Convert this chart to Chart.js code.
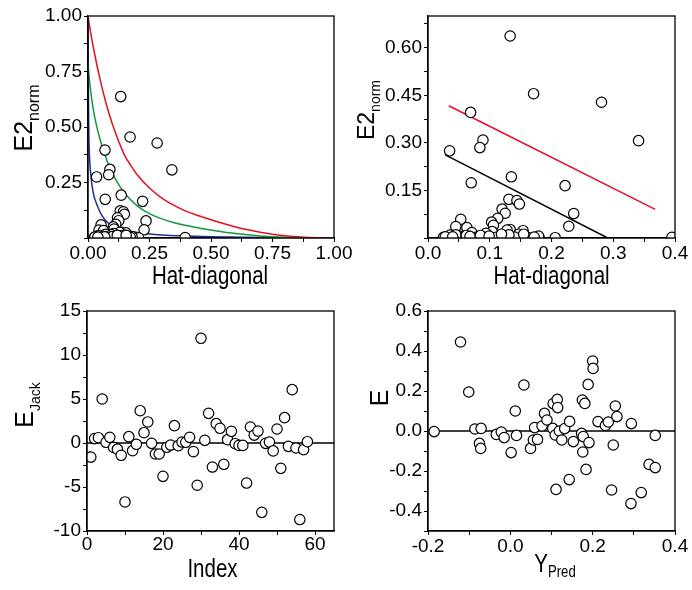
<!DOCTYPE html>
<html><head><meta charset="utf-8">
<script src="https://cdn.jsdelivr.net/npm/chart.js@4.4.1/dist/chart.umd.min.js"></script>
<style>
html,body{margin:0;padding:0;background:#fff;}
#wrap{position:relative;width:692px;height:590px;overflow:hidden;background:#fff;}
canvas{position:absolute;left:0;top:0;}
</style></head><body>
<div id="wrap">
<canvas id="c1" width="692" height="590"></canvas>
<canvas id="c2" width="692" height="590"></canvas>
<canvas id="c3" width="692" height="590"></canvas>
<canvas id="c4" width="692" height="590"></canvas>
</div>
<script>
// ---------- DATA ----------
const hatDiag = [0.133,0.171,0.281,0.341,0.069,0.035,0.089,0.084,0.070,0.135,0.222,0.236,0.228,0.131,0.144,0.148,0.120,0.125,0.113,0.103,0.106,0.053,0.045,0.063,0.133,0.154,0.128,0.104,0.094,0.147,0.071,0.036,0.051,0.025,0.077,0.116,0.164,0.180,0.206,0.395,0.179,0.058,0.090,0.110,0.140,0.045,0.062,0.123,0.085,0.099,0.131,0.157,0.028,0.068,0.119,0.172,0.155,0.040];
const e2norm  = [0.637,0.455,0.428,0.307,0.396,0.275,0.309,0.285,0.174,0.193,0.165,0.077,0.037,0.122,0.118,0.107,0.091,0.078,0.062,0.050,0.040,0.059,0.036,0.033,0.027,0.023,0.025,0.020,0.015,0.012,0.017,0.009,0.006,0.002,0.002,0.004,0.001,0.001,0.001,0.002,0.006,0.003,0.003,0.002,0.003,0.010,0.008,0.008,0.008,0.006,0.010,0.004,0.004,0.005,0.012,0.003,0.012,0.004];

const redCurveH   = [0,0.005,0.01,0.025,0.05,0.075,0.1,0.125,0.15,0.175,0.2,0.25,0.3,0.35,0.4,0.45,0.5,0.55,0.6,0.65,0.7,0.75,0.8,0.85,0.9,0.95,1.0];
const redCurveE   = [1.0,0.965,0.93,0.84,0.71,0.60,0.51,0.435,0.37,0.325,0.285,0.225,0.18,0.147,0.12,0.10,0.082,0.065,0.05,0.037,0.026,0.017,0.0105,0.0058,0.0025,0.0006,0];
const greenCurveH = [0,0.005,0.01,0.02,0.03,0.05,0.075,0.1,0.125,0.15,0.2,0.25,0.3,0.35,0.4,0.45,0.5,0.6,0.7,0.8,0.9,1.0];
const greenCurveE = [0.79,0.72,0.67,0.59,0.53,0.44,0.355,0.29,0.24,0.2,0.145,0.11,0.086,0.069,0.056,0.045,0.036,0.02,0.009,0.003,0.0008,0];
const blueCurveH  = [0,0.001,0.003,0.006,0.01,0.02,0.04,0.06,0.08,0.1,0.15,0.2,0.3,0.4,0.5,0.7,0.85,1.0];
const blueCurveE  = [1.0,0.75,0.5,0.37,0.30,0.21,0.14,0.095,0.07,0.055,0.035,0.025,0.014,0.009,0.006,0.002,0.0005,0];

const redLineH   = [0.0336,0.368];
const redLineE   = [0.417,0.0905];
const blackLineH = [0.028,0.291];
const blackLineE = [0.262,0.0];

const jackIndex = [1,2,3,4,5,6,7,8,9,10,11,12,13,14,15,16,17,18,19,20,21,22,23,24,25,26,27,28,29,30,31,32,33,34,35,36,37,38,39,40,41,42,43,44,45,46,47,48,49,50,51,52,53,54,55,56,57,58];
const eJack = [-1.6,0.5,0.6,5.0,0.08,0.64,-0.5,-0.7,-1.4,-6.7,0.72,-0.87,-0.15,3.67,1.17,2.39,-0.04,-1.25,-1.25,-3.79,-0.49,-0.23,1.97,-0.3,0.11,0.08,0.64,-0.98,-4.8,11.9,0.3,3.37,-2.73,2.2,1.67,-2.42,0.38,1.33,-0.08,-0.27,-0.27,-4.55,1.82,0.9,1.36,-7.88,-0.04,0.11,-0.9,1.59,-2.88,2.88,-0.38,6.06,-0.57,-8.7,-0.76,0.15];
const jackZeroX = [0,65];
const jackZeroY = [0,0];

const yPred = [-0.185,-0.121,-0.101,-0.086,-0.071,-0.075,-0.072,-0.034,-0.022,-0.015,0.002,0.012,0.015,0.033,0.049,0.056,0.059,0.066,0.077,0.083,0.089,0.103,0.104,0.114,0.115,0.109,0.111,0.119,0.125,0.132,0.144,0.143,0.153,0.175,0.181,0.173,0.177,0.176,0.184,0.189,0.191,0.200,0.201,0.213,0.231,0.238,0.250,0.246,0.255,0.259,0.294,0.293,0.318,0.337,0.352,0.352];
const resE  = [-0.003,0.445,0.195,0.01,0.013,-0.062,-0.087,-0.017,-0.005,-0.033,-0.108,0.10,-0.022,0.23,-0.087,-0.045,0.017,-0.042,0.025,0.088,0.055,0.013,0.137,0.158,0.117,-0.02,-0.292,0.0,-0.045,0.012,0.048,-0.243,-0.053,0.155,0.138,-0.012,-0.028,-0.105,-0.192,0.233,-0.058,0.35,0.313,0.047,0.028,0.045,-0.07,-0.295,0.125,0.072,0.037,-0.363,-0.308,-0.167,-0.183,-0.022];
const predZeroX = [-0.2,0.4];
const predZeroY = [0,0];

// ---------- HELPERS ----------
const FONT = "'Liberation Sans', Arial, sans-serif";
const W = 692, H = 590;

function pts(xs, ys){ return xs.map((x,i)=>({x:x, y:ys[i]})); }

function scatterSet(xs, ys, clip){
  return {type:'scatter', data:pts(xs,ys), order:0, clip:clip,
    pointRadius:5.2, pointHoverRadius:5.2, pointBackgroundColor:'#fff',
    pointBorderColor:'#000', pointBorderWidth:1.2, showLine:false};
}
function lineSet(xs, ys, color, width, smooth){
  return {type:'scatter', data:pts(xs,ys), order:1, showLine:true,
    borderColor:color, borderWidth:width, pointRadius:0, pointHoverRadius:0,
    cubicInterpolationMode: smooth ? 'monotone' : 'default', tension: 0, fill:false};
}

function axis(pos, min, max, step, major, dec, hide, padding){
  return {
    type:'linear', position:pos, min:min, max:max,
    afterFit: s => { if (pos==='left') s.width = 60; else s.height = 40; },
    border:{display:true, color:'#000', width:1.3},
    grid:{display:true, drawOnChartArea:false, drawTicks:true, tickLength:4, color:'#000', lineWidth:1},
    ticks:{
      stepSize:step, autoSkip:false, maxRotation:0, minRotation:0, includeBounds:false,
      color:'#000', font:{family:FONT, size:19}, padding:padding,
      callback: v => {
        let r = v / major;
        if (Math.abs(r - Math.round(r)) > 1e-6) return '';
        if (hide.some(h => Math.abs(h - v) < 1e-9)) return '';
        if (Math.abs(v) < 1e-9) v = 0;
        return v.toFixed(dec);
      }
    }
  };
}

function drawTitle(ctx, a, t){
  ctx.save();
  ctx.fillStyle = '#000';
  ctx.textBaseline = 'alphabetic';
  ctx.textAlign = 'left';
  const mainFont = t.size + 'px ' + FONT;
  const subFont = t.subSize + 'px ' + FONT;
  ctx.font = mainFont; const wm = ctx.measureText(t.main).width;
  ctx.font = subFont; const ws = t.sub ? ctx.measureText(t.sub).width : 0;
  const total = wm + ws;
  if (t.axis === 'x'){
    const cx = (a.left + a.right)/2 + t.shift;
    const by = a.bottom + t.offset;
    ctx.translate(cx, by);
    ctx.scale(t.sx, 1);
  } else {
    const bx = a.left - t.offset;
    const cy = (a.top + a.bottom)/2 + t.shift;
    ctx.translate(bx, cy);
    ctx.rotate(-Math.PI/2);
    ctx.scale(1, t.sx);
  }
  ctx.font = mainFont; ctx.fillText(t.main, -total/2, 0);
  if (t.sub){ ctx.font = subFont; ctx.fillText(t.sub, -total/2 + wm, t.dy); }
  ctx.restore();
}

const framePlugin = {
  id:'frameTitles',
  afterDraw(chart, args, opts){
    const ctx = chart.ctx, a = chart.chartArea;
    ctx.save();
    ctx.strokeStyle = '#000'; ctx.lineWidth = 1.3;
    ctx.strokeRect(a.left, a.top, a.right - a.left, a.bottom - a.top);
    ctx.restore();
    (opts.titles || []).forEach(t => drawTitle(ctx, a, t));
  }
};

function makeChart(id, area, datasets, xAxis, yAxis, titles){
  return new Chart(document.getElementById(id), {
    type:'scatter',
    data:{datasets:datasets},
    options:{
      responsive:false, animation:false, devicePixelRatio:1,
      layout:{padding:{left:area.left-60, top:area.top, right:W-area.right, bottom:H-area.bottom-40}},
      plugins:{legend:{display:false}, tooltip:{enabled:false}, frameTitles:{titles:titles}},
      scales:{x:xAxis, y:yAxis}
    },
    plugins:[framePlugin]
  });
}

// ---------- PANEL 1 ----------
makeChart('c1', {left:88, right:334, top:16, bottom:238},
  [ scatterSet(hatDiag, e2norm, 0),
    lineSet(redCurveH, redCurveE, '#e3101f', 1.5, true),
    lineSet(greenCurveH, greenCurveE, '#0f9a3f', 1.5, true),
    lineSet(blueCurveH, blueCurveE, '#1f2f9c', 1.5, true) ],
  axis('bottom', 0, 1, 0.125, 0.25, 2, [], 0),
  axis('left', 0, 1, 0.125, 0.25, 2, [0], 2),
  [ {axis:'x', main:'Hat-diagonal', size:25, sx:0.82, shift:-1, offset:46},
    {axis:'y', main:'E2', sub:'norm', size:25, subSize:16, dy:7, sx:1, shift:-9, offset:56} ]);

// ---------- PANEL 2 ----------
makeChart('c2', {left:428, right:675, top:16, bottom:238},
  [ scatterSet(hatDiag, e2norm, 0),
    lineSet(redLineH, redLineE, '#e3101f', 1.5, false),
    lineSet(blackLineH, blackLineE, '#000', 1.5, false) ],
  axis('bottom', 0, 0.4, 0.05, 0.1, 1, [], 0),
  axis('left', 0, 0.7, 0.075, 0.15, 2, [0], 2),
  [ {axis:'x', main:'Hat-diagonal', size:25, sx:0.82, shift:0, offset:46},
    {axis:'y', main:'E2', sub:'norm', size:23, subSize:14, dy:6, sx:1, shift:-17, offset:54} ]);

// ---------- PANEL 3 ----------
makeChart('c3', {left:87, right:334, top:311, bottom:531},
  [ scatterSet(jackIndex, eJack, 0),
    lineSet(jackZeroX, jackZeroY, '#000', 1.3, false) ],
  axis('bottom', 0, 65, 10, 20, 0, [], -2),
  axis('left', -10, 15, 2.5, 5, 0, [], 2),
  [ {axis:'x', main:'Index', size:25, sx:0.82, shift:2, offset:46},
    {axis:'y', main:'E', sub:'Jack', size:25, subSize:14, dy:7, sx:1, shift:-16, offset:54} ]);

// ---------- PANEL 4 ----------
makeChart('c4', {left:428, right:675, top:311, bottom:531},
  [ scatterSet(yPred, resE, 0),
    lineSet(predZeroX, predZeroY, '#000', 1.3, false) ],
  axis('bottom', -0.2, 0.4, 0.1, 0.2, 1, [], 0),
  axis('left', -0.5, 0.6, 0.1, 0.2, 1, [], 2),
  [ {axis:'x', main:'Y', sub:'Pred', size:25, subSize:16, dy:5, sx:0.82, shift:3.5, offset:41},
    {axis:'y', main:'E', size:25, subSize:16, dy:7, sx:1, shift:-23, offset:40} ]);
</script>
</body></html>
